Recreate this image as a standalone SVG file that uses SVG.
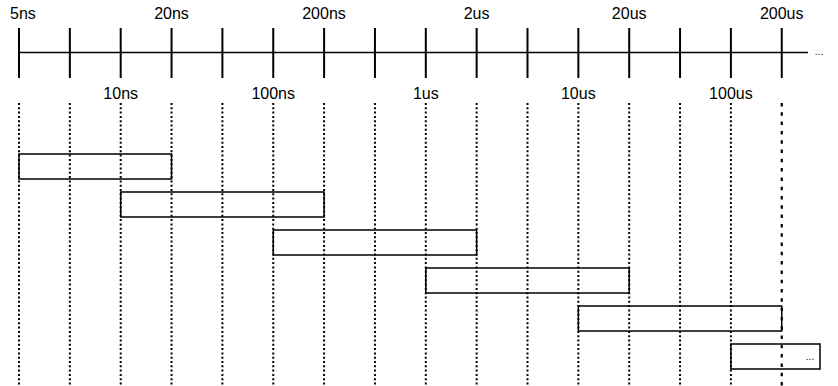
<svg xmlns="http://www.w3.org/2000/svg" width="838" height="386" viewBox="0 0 838 386">
<style>
text{font-family:"Liberation Sans",Arial,sans-serif;font-size:16px;fill:#000}
.lbl{text-anchor:middle}
.tick{stroke:#000;stroke-width:2}
.axis{stroke:#000;stroke-width:1.5}
.grid{stroke:#000;stroke-width:2;stroke-dasharray:2 2.3}
.grid2{stroke:#000;stroke-width:2.2;stroke-dasharray:3.5 5.8}
.box{fill:none;stroke:#000;stroke-width:1.5}
.small{font-size:10px;text-anchor:middle}
</style>
<rect width="838" height="386" fill="#fff"/>
<g id="axis">
<line class="axis" x1="19" y1="52.5" x2="808" y2="52.5"/>
<text class="small" x="819" y="55">...</text>
<line class="tick" x1="19" y1="28" x2="19" y2="78"/>
<line class="tick" x1="69.85" y1="28" x2="69.85" y2="78"/>
<line class="tick" x1="120.7" y1="28" x2="120.7" y2="78"/>
<line class="tick" x1="171.55" y1="28" x2="171.55" y2="78"/>
<line class="tick" x1="222.4" y1="28" x2="222.4" y2="78"/>
<line class="tick" x1="273.25" y1="28" x2="273.25" y2="78"/>
<line class="tick" x1="324.1" y1="28" x2="324.1" y2="78"/>
<line class="tick" x1="374.95" y1="28" x2="374.95" y2="78"/>
<line class="tick" x1="425.8" y1="28" x2="425.8" y2="78"/>
<line class="tick" x1="476.65" y1="28" x2="476.65" y2="78"/>
<line class="tick" x1="527.5" y1="28" x2="527.5" y2="78"/>
<line class="tick" x1="578.35" y1="28" x2="578.35" y2="78"/>
<line class="tick" x1="629.2" y1="28" x2="629.2" y2="78"/>
<line class="tick" x1="680.05" y1="28" x2="680.05" y2="78"/>
<line class="tick" x1="730.9" y1="28" x2="730.9" y2="78"/>
<line class="tick" x1="781.75" y1="28" x2="781.75" y2="78"/>
</g>
<g id="labels">
<text x="10" y="19">5ns</text>
<text class="lbl" x="171.5" y="18.5">20ns</text>
<text class="lbl" x="324" y="18.5">200ns</text>
<text class="lbl" x="476.6" y="18.5">2us</text>
<text class="lbl" x="629.2" y="18.5">20us</text>
<text class="lbl" x="781.7" y="18.5">200us</text>
<text class="lbl" x="120.7" y="98.5">10ns</text>
<text class="lbl" x="273.2" y="98.5">100ns</text>
<text class="lbl" x="425.8" y="98.5">1us</text>
<text class="lbl" x="578.3" y="98.5">10us</text>
<text class="lbl" x="730.9" y="98.5">100us</text>
</g>
<g id="connectors">
<line class="grid" x1="19" y1="103" x2="19" y2="386"/>
<line class="grid" x1="69.85" y1="103" x2="69.85" y2="386"/>
<line class="grid" x1="120.7" y1="103" x2="120.7" y2="386"/>
<line class="grid" x1="171.55" y1="103" x2="171.55" y2="386"/>
<line class="grid" x1="222.4" y1="103" x2="222.4" y2="386"/>
<line class="grid" x1="273.25" y1="103" x2="273.25" y2="386"/>
<line class="grid" x1="324.1" y1="103" x2="324.1" y2="386"/>
<line class="grid" x1="374.95" y1="103" x2="374.95" y2="386"/>
<line class="grid" x1="425.8" y1="103" x2="425.8" y2="386"/>
<line class="grid" x1="476.65" y1="103" x2="476.65" y2="386"/>
<line class="grid" x1="527.5" y1="103" x2="527.5" y2="386"/>
<line class="grid" x1="578.35" y1="103" x2="578.35" y2="386"/>
<line class="grid" x1="629.2" y1="103" x2="629.2" y2="386"/>
<line class="grid" x1="680.05" y1="103" x2="680.05" y2="386"/>
<line class="grid" x1="730.9" y1="103" x2="730.9" y2="386"/>
<line class="grid2" x1="781.75" y1="103" x2="781.75" y2="386"/>
</g>
<g id="box1"><rect class="box" x="19" y="154" width="152.55" height="25"/></g>
<g id="box2"><rect class="box" x="120.7" y="192" width="203.4" height="25"/></g>
<g id="box3"><rect class="box" x="273.25" y="230" width="203.4" height="25"/></g>
<g id="box4"><rect class="box" x="425.8" y="268" width="203.4" height="25"/></g>
<g id="box5"><rect class="box" x="578.35" y="306" width="203.4" height="25"/></g>
<g id="box6"><rect class="box" x="730.9" y="344" width="89.1" height="25"/><text class="small" x="810" y="360">...</text></g>
</svg>
